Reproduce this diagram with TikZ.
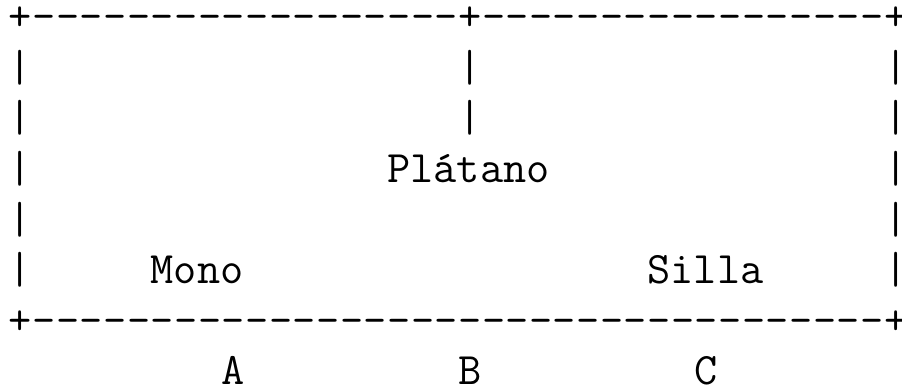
\documentclass[tikz,border=0pt]{standalone}
\begin{document}
\begin{tikzpicture}[x=11.83pt, y=-25.3pt,
  asc/.style={anchor=base west, inner sep=0pt, outer sep=0pt,
    font=\fontsize{22.5pt}{25.3pt}\selectfont\ttfamily}]
\useasboundingbox (-4.4pt,15.4pt) rectangle (446.6pt,-179.1pt);
% top border
\foreach \c in {0,19,37} \node[asc] (r0c\c) at (\c,0) {+};
\foreach \c in {1,...,18} \node[asc] (r0c\c) at (\c,0) {-};
\foreach \c in {20,...,36} \node[asc] (r0c\c) at (\c,0) {-};
% rows with three bars
\foreach \r in {1,2} \foreach \c in {0,19,37} \node[asc] (r\r c\c) at (\c,\r) {|};
% side bars
\foreach \r in {3,4,5} \foreach \c in {0,37} \node[asc] (r\r c\c) at (\c,\r) {|};
% bottom border
\foreach \c in {0,37} \node[asc] (r6c\c) at (\c,6) {+};
\foreach \c in {1,...,36} \node[asc] (r6c\c) at (\c,6) {-};
% words
\node[asc] (platano) at (16,3) {Plátano};
\node[asc] (mono) at (6,5) {Mono};
\node[asc] (silla) at (27,5) {Silla};
% labels
\node[asc] (la) at (9,7) {A};
\node[asc] (lb) at (19,7) {B};
\node[asc] (lc) at (29,7) {C};
\end{tikzpicture}
\end{document}
